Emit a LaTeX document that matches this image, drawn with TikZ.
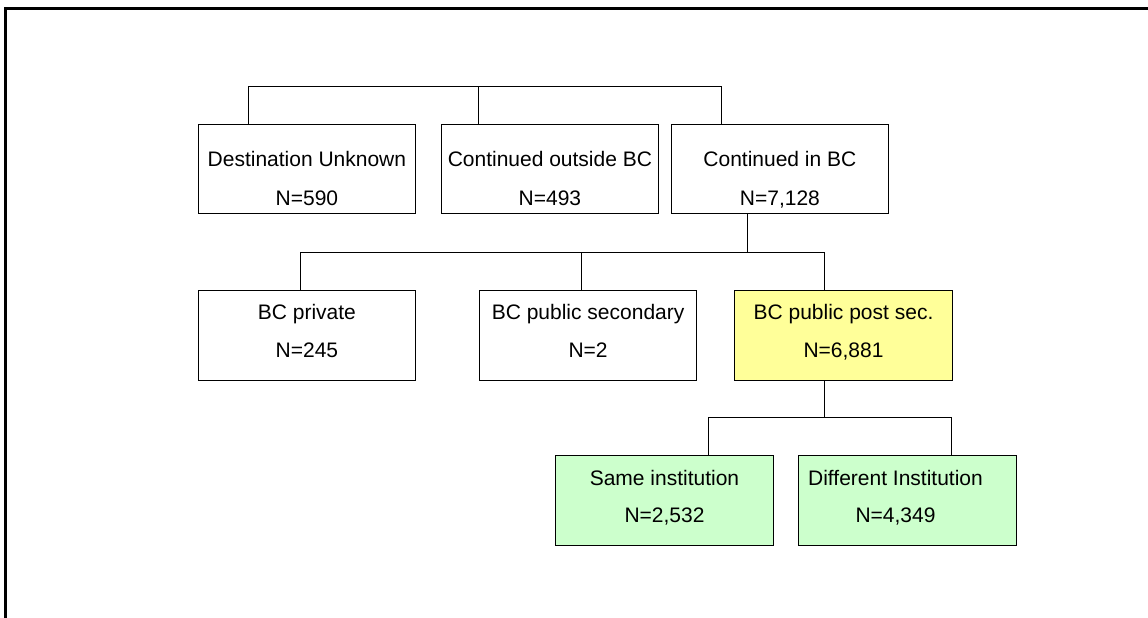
\documentclass[tikz,border=0pt]{standalone}
\usepackage{fontspec}
\setmainfont{Liberation Sans}
\definecolor{boxyellow}{RGB}{255,255,153}
\definecolor{boxgreen}{RGB}{204,255,204}
\begin{document}
\begin{tikzpicture}[x=1pt,y=-1pt,
  box/.style={draw=black, line width=1pt, minimum width=217.7pt, minimum height=89.7pt, inner sep=0pt, fill=white},
  txt/.style={anchor=base, inner sep=0pt, font=\fontsize{21}{25}\selectfont},
  conn/.style={draw=black, line width=1pt}]
\useasboundingbox (0,0) rectangle (1148,618);
% outer frame
\draw[line width=3.2pt] (1148,8.5) -- (5.5,8.5) -- (5.5,618);
% row 1
\node[box] (dest) at (306.9,169.1) {};
\node[box] (outs) at (549.9,169.1) {};
\node[box] (inbc) at (779.9,169.1) {};
% row 2
\node[box] (priv) at (306.9,335.2) {};
\node[box] (psec) at (588.1,335.2) {};
\node[box, fill=boxyellow] (post) at (843.5,335.2) {};
% row 3
\node[box, fill=boxgreen] (same) at (664.5,500.7) {};
\node[box, fill=boxgreen] (diff) at (907.7,500.7) {};
% texts
\node[txt] (destA) at (306.9,166.7) {Destination Unknown};
\node[txt] (destB) at (306.9,205) {N=590};
\node[txt] (outsA) at (549.9,166.7) {Continued outside BC};
\node[txt] (outsB) at (549.9,205) {N=493};
\node[txt] (inbcA) at (779.9,166.7) {Continued in BC};
\node[txt] (inbcB) at (779.9,205) {N=7,128};
\node[txt] (privA) at (306.9,319.2) {BC private};
\node[txt] (privB) at (306.9,357.3) {N=245};
\node[txt] (psecA) at (588.1,319.2) {BC public secondary};
\node[txt] (psecB) at (588.1,357.3) {N=2};
\node[txt] (postA) at (843.5,319.2) {BC public post sec.};
\node[txt] (postB) at (843.5,357.3) {N=6,881};
\node[txt] (sameA) at (664.5,485) {Same institution};
\node[txt] (sameB) at (664.5,522.3) {N=2,532};
\node[txt] (diffA) at (895.5,485) {Different Institution};
\node[txt] (diffB) at (895.5,522.3) {N=4,349};
% connectors row 1
\coordinate (bus1) at (0,86);
\coordinate (d1) at ([xshift=51.3pt]dest.north west);
\coordinate (d2) at ([xshift=38pt]outs.north west);
\coordinate (d3) at ([xshift=51pt]inbc.north west);
\draw[conn] (d1) -- (d1 |- bus1) -- (d3 |- bus1) -- (d3);
\draw[conn] (d2) -- (d2 |- bus1);
% connectors row 2
\coordinate (bus2) at (0,252);
\coordinate (u2) at ([xshift=76.7pt]inbc.south west);
\coordinate (e1) at ([xshift=-6.6pt]priv.north);
\coordinate (e2) at ([xshift=-6.4pt]psec.north);
\coordinate (e3) at ([xshift=-18.8pt]post.north);
\draw[conn] (u2) -- (u2 |- bus2);
\draw[conn] (e1) -- (e1 |- bus2) -- (e3 |- bus2) -- (e3);
\draw[conn] (e2) -- (e2 |- bus2);
% connectors row 3
\coordinate (bus3) at (0,417.5);
\coordinate (u3) at ([xshift=-18.8pt]post.south);
\coordinate (f1) at ([xshift=153.6pt]same.north west);
\coordinate (f2) at ([xshift=153.3pt]diff.north west);
\draw[conn] (u3) -- (u3 |- bus3);
\draw[conn] (f1) -- (f1 |- bus3) -- (f2 |- bus3) -- (f2);
\end{tikzpicture}
\end{document}
